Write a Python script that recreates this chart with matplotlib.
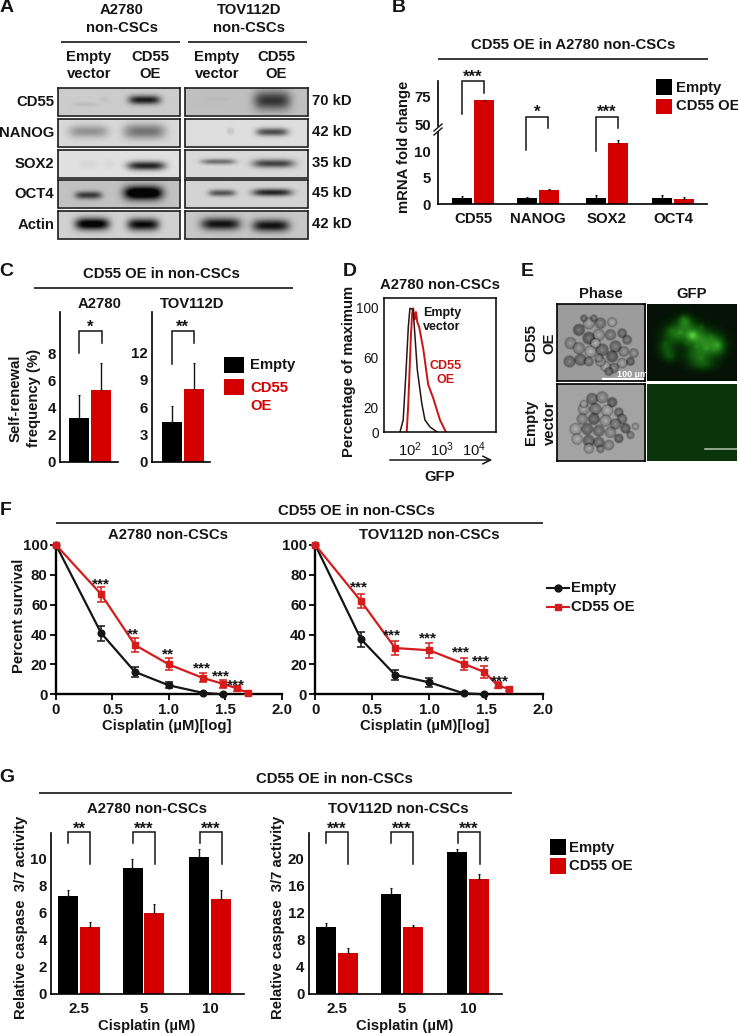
import numpy as np
import matplotlib
matplotlib.use('Agg')
import matplotlib.pyplot as plt

plt.rcParams['font.family'] = ['Liberation Sans', 'DejaVu Sans']
plt.rcParams['font.weight'] = 'bold'
plt.rcParams['mathtext.default'] = 'regular'

W, H = 738, 1034
RED = '#d40000'
INK = '#151515'

# panel A, blots: row names, sizes, background grey and bands (cx, cy, sx, sy, darkness)
blot_rows = ['CD55', 'NANOG', 'SOX2', 'OCT4', 'Actin']
blot_sizes = ['70 kD', '42 kD', '35 kD', '45 kD', '42 kD']
blot_bg_left = [0.80, 0.85, 0.88, 0.76, 0.82]
blot_bg_right = [0.75, 0.87, 0.85, 0.83, 0.78]
blot_left = [
	[(0.71, 0.46, 0.13, 0.16, 0.70), (0.22, 0.62, 0.10, 0.08, 0.06), (0.38, 0.44, 0.04, 0.10, 0.04)],
	[(0.25, 0.48, 0.16, 0.22, 0.28), (0.71, 0.48, 0.17, 0.27, 0.40)],
	[(0.725, 0.60, 0.155, 0.16, 0.75), (0.25, 0.55, 0.08, 0.15, 0.04), (0.42, 0.55, 0.05, 0.15, 0.03)],
	[(0.25, 0.58, 0.11, 0.14, 0.55), (0.70, 0.50, 0.16, 0.25, 1.00)],
	[(0.28, 0.50, 0.14, 0.22, 0.90), (0.70, 0.52, 0.13, 0.22, 0.80)],
]
blot_right = [
	[(0.71, 0.48, 0.15, 0.34, 0.55), (0.27, 0.42, 0.10, 0.06, 0.03)],
	[(0.71, 0.50, 0.13, 0.14, 0.58), (0.37, 0.47, 0.03, 0.12, 0.10)],
	[(0.27, 0.45, 0.14, 0.10, 0.42), (0.72, 0.52, 0.17, 0.15, 0.60)],
	[(0.30, 0.50, 0.11, 0.12, 0.50), (0.71, 0.48, 0.16, 0.13, 0.70)],
	[(0.29, 0.50, 0.16, 0.22, 0.72), (0.70, 0.56, 0.15, 0.22, 0.72)],
]

# panel B
b_genes = ['CD55', 'NANOG', 'SOX2', 'OCT4']
b_empty = [1.1, 1.05, 1.15, 1.15]
b_empty_err = [0.4, 0.2, 0.6, 0.5]
b_oe = [72, 2.6, 11.5, 0.95]
b_oe_err = [0.4, 0.15, 0.6, 0.4]

# panel C
c_a_vals = [3.2, 5.3]
c_a_errs = [1.75, 2.0]
c_t_vals = [4.36, 8.0]
c_t_errs = [1.75, 2.9]

# panel D, x is log10 of GFP
d_empty_x = [1.69, 1.79, 1.875, 1.95, 2.0, 2.10, 2.16, 2.23, 2.37, 2.47, 2.63, 2.85]
d_empty_y = [0, 9.6, 47, 84, 99, 98, 76, 50, 23, 9.6, 4, 0]
d_oe_x = [1.90, 1.95, 2.03, 2.07, 2.10, 2.15, 2.19, 2.23, 2.29, 2.42, 2.57, 2.73, 2.94, 3.125]
d_oe_y = [0, 23, 76, 95, 99, 90, 96, 88, 84, 66, 38, 27, 9.6, 0]

# panel E, cells as (x, y, r) and green blobs as (x, y, sx, sy, level)
e_cells_top = [(42, 180, 14), (45, 125, 14), (70, 85, 14), (100, 65, 14), (135, 65, 13), (170, 62, 11),
	(200, 95, 11), (215, 115, 11), (235, 155, 11), (225, 180, 10), (200, 185, 12), (175, 200, 12),
	(150, 195, 12), (160, 210, 10), (75, 175, 14), (70, 140, 14), (100, 110, 15), (130, 100, 14),
	(165, 100, 13), (105, 150, 14), (140, 145, 15), (180, 135, 14), (205, 150, 12), (170, 165, 14),
	(135, 180, 12), (100, 180, 11), (120, 125, 12), (85, 50, 8), (115, 50, 8), (130, 170, 10)]
e_cells_bottom = [(110, 290, 14), (140, 285, 14), (170, 300, 12), (85, 320, 14), (120, 320, 14),
	(155, 325, 14), (190, 330, 11), (200, 350, 12), (80, 350, 13), (115, 350, 14), (150, 355, 14),
	(180, 365, 13), (60, 380, 14), (95, 380, 14), (130, 385, 14), (165, 390, 13), (210, 378, 12),
	(240, 372, 8), (225, 398, 9), (65, 410, 13), (100, 415, 14), (130, 420, 13), (160, 428, 12),
	(190, 408, 11), (100, 438, 12), (135, 440, 9), (85, 305, 9)]
e_blobs = [(415, 100, 36, 32, 0.5), (390, 60, 22, 20, 0.42), (360, 95, 34, 28, 0.42), (460, 125, 40, 34, 0.46),
	(335, 140, 25, 25, 0.28), (345, 165, 20, 17, 0.2), (430, 165, 40, 30, 0.36), (490, 135, 22, 28, 0.34),
	(450, 190, 32, 16, 0.18)]
e_spots = [(412, 102, 13, 13, 0.3), (385, 50, 8, 8, 0.1), (375, 92, 8, 8, 0.1), (350, 85, 7, 7, 0.08),
	(440, 75, 8, 8, 0.1), (470, 105, 7, 7, 0.1), (455, 140, 8, 8, 0.1), (490, 130, 7, 7, 0.1),
	(425, 135, 7, 7, 0.07), (395, 125, 8, 8, 0.08), (330, 125, 7, 7, 0.08), (440, 170, 7, 7, 0.07)]
cell_shades = [0.36, 0.46, 0.30, 0.52, 0.40, 0.56, 0.34]

# panel F
f_dose = [0, 0.4, 0.7, 1.0, 1.3, 1.48, 1.6, 1.7]
f_a_empty = [100, 41, 15, 6, 1, 0]
f_a_empty_err = [0, 5, 3.5, 2, 0.5, 0.5]
f_a_oe = [100, 67, 33, 20, 11, 7, 4, 1]
f_a_oe_err = [0, 5, 5, 4, 3, 2.5, 1.5, 1]
f_t_empty = [100, 37, 13, 8, 0.7, 0]
f_t_empty_err = [0, 5, 3.5, 3, 0.5, 0.5]
f_t_oe = [100, 62.5, 31, 29.5, 20.5, 15, 6, 3.5]
f_t_oe_err = [0, 5, 5, 5, 4, 4, 2, 1]

# panel G
g_doses = ['2.5', '5', '10']
g_a_empty = [7.2, 9.3, 10.1]
g_a_empty_err = [0.44, 0.63, 0.64]
g_a_oe = [4.95, 5.96, 7.02]
g_a_oe_err = [0.35, 0.69, 0.62]
g_t_empty = [9.9, 14.7, 20.9]
g_t_empty_err = [0.5, 0.9, 0.5]
g_t_oe = [6.0, 9.8, 17.0]
g_t_oe_err = [0.7, 0.3, 0.7]

fig = plt.figure(figsize=(W / 100, H / 100), dpi=100)

def px_axes(left, top, right, bottom, **kw):
	return fig.add_axes([left / W, 1 - bottom / H, (right - left) / W, (bottom - top) / H], **kw)

# whole figure overlay in pixel coordinates, used for text and rules
ov = px_axes(0, 0, W, H, zorder=20)
ov.set_xlim(0, W)
ov.set_ylim(H, 0)
ov.axis('off')
ov.patch.set_alpha(0)

def txt(x, y, s, size=10.7, ha='center', color=INK, weight='bold', rotation=0):
	ov.text(x, y, s, fontsize=size, ha=ha, va='center', color=color, fontweight=weight, rotation=rotation,
		rotation_mode='anchor' if rotation else 'default', linespacing=1.4)

def rule(x0, x1, y, lw=1.2):
	ov.plot([x0, x1], [y, y], color=INK, lw=lw, solid_capstyle='butt')

def stars(x, y, s, size=12):
	# asterisks sit high in the line, so place them from the baseline
	ov.text(x, y + size * 0.82, s, fontsize=size, ha='center', va='baseline', color=INK)

def bracket(x0, y0, x1, y1, top):
	ov.plot([x0, x0, x1, x1], [y0, top, top, y1], color=INK, lw=1.1, solid_joinstyle='miter')

def square(x0, x1, y0, y1, color):
	ov.fill([x0, x1, x1, x0], [y0, y0, y1, y1], color=color, lw=0)

def bar_axes(left, top, right, bottom, ymax):
	ax = px_axes(left, top, right, bottom)
	ax.set_xlim(left, right)
	ax.set_ylim(0, ymax)
	for s in ['top', 'right']:
		ax.spines[s].set_visible(False)
	ax.spines['left'].set_linewidth(1.2)
	ax.spines['bottom'].set_linewidth(1.2)
	ax.tick_params(length=0, labelsize=10.8, colors=INK, pad=3)
	return ax

def paired_bars(ax, centers, empty, empty_err, oe, oe_err, width=20, off=11):
	x = np.array(centers, dtype=float)
	ax.bar(x - off, empty, width, color='black', yerr=[[0] * len(empty), empty_err], ecolor=INK,
		error_kw=dict(lw=1, capsize=1, capthick=0.8))
	ax.bar(x + off, oe, width, color=RED, yerr=[[0] * len(oe), oe_err], ecolor=INK,
		error_kw=dict(lw=1, capsize=1, capthick=0.8))

# ---- A
txt(7, 8, 'A', 14)
txt(122, 10, 'A2780')
txt(122, 28, 'non-CSCs')
txt(249, 10, 'TOV112D')
txt(249, 28, 'non-CSCs')
rule(61, 180, 42)
rule(188, 307, 42)
for x, top, bot in [(89, 'Empty', 'vector'), (150, 'CD55', 'OE'), (217, 'Empty', 'vector'), (276, 'CD55', 'OE')]:
	txt(x, 57, top)
	txt(x, 74, bot)

def blot(left, right, top, bottom, bg, bands):
	ax = px_axes(left, top, right, bottom)
	xx, yy = np.meshgrid(np.linspace(0, 1, 240), np.linspace(0, 1, 60))
	img = np.full(xx.shape, float(bg))
	for cx, cy, sx, sy, dark in bands:
		img -= dark * np.exp(-((xx - cx) / sx) ** 4 - ((yy - cy) / sy) ** 2)
	ax.imshow(np.clip(img, 0.02, 1), cmap='gray', vmin=0, vmax=1, aspect='auto', interpolation='bilinear')
	ax.set_xticks([])
	ax.set_yticks([])
	for s in ax.spines.values():
		s.set_linewidth(1.2)
		s.set_color('#1c1c1c')

blot_tops = [88, 119, 150, 180, 211]
for i, name in enumerate(blot_rows):
	t = blot_tops[i]
	blot(58, 180, t, t + 27.5, blot_bg_left[i], blot_left[i])
	blot(185, 308, t, t + 27.5, blot_bg_right[i], blot_right[i])
	txt(54, t + 14, name, ha='right')
	txt(312, t + 13, blot_sizes[i], ha='left')

# ---- B
txt(399, 7, 'B', 14)
txt(572.7, 45, 'CD55 OE in A2780 non-CSCs')
rule(438, 707.7, 59)
b_centers = [473, 537.5, 607, 673]
ax_low = bar_axes(437.7, 128, 707, 204, 14.34)
ax_up = bar_axes(437.7, 81, 707, 128, 89.8)
ax_up.set_ylim(46.3, 89.8)
for ax in (ax_low, ax_up):
	paired_bars(ax, b_centers, b_empty, b_empty_err, b_oe, b_oe_err)
ax_low.spines['left'].set_bounds(0, 13.6)
ax_up.spines['left'].set_bounds(48.1, 89.8)
ax_up.spines['bottom'].set_visible(False)
ax_up.patch.set_alpha(0)
ax_low.patch.set_alpha(0)
ax_low.set_yticks([0, 5, 10])
ax_up.set_yticks([50, 75])
ax_up.set_xticks([])
ax_low.set_xticks(b_centers)
ax_low.set_xticklabels(b_genes)
ax_low.tick_params(axis='x', pad=6)
ax_up.tick_params(axis='y', pad=5)
ax_low.tick_params(axis='y', pad=5)
ov.plot([434, 442], [131, 124], color=INK, lw=1)
ov.plot([434, 442], [135, 128], color=INK, lw=1)
txt(404, 147, 'mRNA fold change', rotation=90)
bracket(461.7, 114, 484, 92.7, 81)
stars(472.5, 72, '***')
bracket(525.7, 150, 548, 128, 117)
stars(537, 107, '*')
bracket(596, 150.7, 618, 128, 117)
stars(607, 107, '***')
square(656, 672, 79, 95, 'black')
square(656, 672, 99, 114, RED)
txt(675.7, 87.7, 'Empty', ha='left')
txt(675.7, 106.5, 'CD55 OE', ha='left')

# ---- C
txt(6, 272, 'C', 14)
txt(161, 274, 'CD55 OE in non-CSCs')
rule(34, 293, 288)
txt(100, 304, 'A2780')
txt(192, 304, 'TOV112D')
ax = bar_axes(60.3, 312, 118, 461.7, 150 / 13.6)
paired_bars(ax, [90.2], [c_a_vals[0]], [c_a_errs[0]], [c_a_vals[1]], [c_a_errs[1]])
ax.set_yticks([0, 2, 4, 6, 8])
ax.set_xticks([])
ax = bar_axes(152.3, 312, 210, 461.7, 150 / 9.1)
paired_bars(ax, [182.5], [c_t_vals[0]], [c_t_errs[0]], [c_t_vals[1]], [c_t_errs[1]])
ax.set_yticks([0, 3, 6, 9, 12])
ax.set_xticks([])
txt(25, 398, 'Self-renewal\nfrequency (%)', rotation=90)
bracket(79.3, 353, 102, 342.7, 331)
stars(90, 322, '*')
bracket(171.7, 364, 193.7, 342.7, 331)
stars(182.7, 322, '**')
square(224, 243.7, 356.7, 372.7, 'black')
square(224, 243.7, 379, 395, RED)
txt(250, 365, 'Empty', ha='left')
txt(250, 387.7, 'CD55', ha='left', color=RED)
txt(250, 405.7, 'OE', ha='left', color=RED)

# ---- D
txt(350, 272, 'D', 14)
txt(440, 285, 'A2780 non-CSCs')
ax = px_axes(384.3, 298.3, 495.7, 432)
ax.plot(d_oe_x, d_oe_y, color='#c81414', lw=1.4)
ax.plot(d_empty_x, d_empty_y, color='#2a1414', lw=1.1)
ax.set_xlim(1.2, 4.68)
ax.set_ylim(0, 107)
ax.set_xticks([2, 3, 4])
ax.set_xticklabels(['$10^2$', '$10^3$', '$10^4$'], fontweight='normal')
ax.set_yticks([0, 20, 60, 100])
ax.set_yticklabels(['0', '20', '60', '100'], fontweight='normal')
ax.tick_params(length=0, labelsize=9.8, colors=INK, pad=4)
ax.tick_params(axis='x', pad=6, labelsize=10.6)
for s in ax.spines.values():
	s.set_linewidth(1.1)
txt(348.5, 371.7, 'Percentage of maximum', rotation=90)
ov.annotate('', xy=(495, 460), xytext=(387, 460), arrowprops=dict(arrowstyle='->', lw=1.1, color=INK, mutation_scale=14))
txt(440, 476.7, 'GFP')
txt(423, 313, 'Empty', 9, ha='left')
txt(423, 327, 'vector', 9, ha='left')
txt(445.7, 365.7, 'CD55', 9, color='#c81414')
txt(445.7, 380, 'OE', 9, color='#c81414')

# ---- E
txt(527, 272, 'E', 14)
txt(601, 294, 'Phase')
txt(691.7, 294, 'GFP')

def phase(left, top, right, bottom, zx0, zx1, zy0, zy1, cells, grey):
	# soft rings on a grey field, overlapping like the clumped cells
	ax = px_axes(left, top, right, bottom)
	xx, yy = np.meshgrid(np.linspace(zx0, zx1, 180), np.linspace(zy0, zy1, 156))
	img = np.full(xx.shape, float(grey))
	for i, (x, y, r) in enumerate(cells):
		r = r * 1.2
		d = np.hypot(xx - x, yy - y)
		shade = cell_shades[i % len(cell_shades)]
		mask = np.clip((r - d) / 2.0, 0, 1)
		img = img * (1 - 0.8 * mask) + shade * 0.8 * mask
		img = img - 0.2 * np.exp(-((d - r) / 1.8) ** 2)
		img = img + 0.12 * np.exp(-(d / (r * 0.4)) ** 2)
	ax.imshow(np.clip(img, 0, 1), cmap='gray', vmin=0, vmax=1, aspect='auto', extent=(zx0, zx1, zy1, zy0), interpolation='bilinear')
	ax.set_xticks([])
	ax.set_yticks([])
	for s in ax.spines.values():
		s.set_linewidth(1.2)
	return ax

ax = phase(556.7, 304.3, 645.3, 381, 5, 271, 8, 238, e_cells_top, 0.61)
ax.plot([145, 271], [233, 233], color='white', lw=1.6)
ax.text(232, 218, '100 µm', color='white', fontsize=6.5, ha='center', va='center')
phase(556.7, 383.7, 645.3, 460.7, 5, 271, 246, 475, e_cells_bottom, 0.64)

ax = px_axes(647.3, 304.3, 736.7, 381)
gx, gy = np.meshgrid(np.linspace(277, 546, 180), np.linspace(8, 238, 150))
glow = np.zeros(gx.shape)
for x, y, sx, sy, level in e_blobs + e_spots:
	glow += level * np.exp(-((gx - x) / sx) ** 2 - ((gy - y) / sy) ** 2)
glow = np.clip(glow, 0, 1)
rgb = np.dstack([0.02 + 0.42 * glow ** 2, 0.07 + 0.80 * glow, 0.02 + 0.28 * glow ** 2])
ax.imshow(rgb, aspect='auto', interpolation='bilinear')
ax.axis('off')
ax = px_axes(647.3, 383.7, 736.7, 460.7)
ax.set_facecolor('#0b340b')
ax.set_xlim(277, 546)
ax.set_ylim(475, 246)
ax.set_xticks([])
ax.set_yticks([])
ax.plot([450, 546], [440, 440], color='#a8b8a8', lw=1.2)
for s in ax.spines.values():
	s.set_visible(False)
txt(540.5, 343, 'CD55\nOE', rotation=90)
txt(540.5, 422.7, 'Empty\nvector', rotation=90)

# ---- F
txt(6, 510.7, 'F', 14)
txt(356, 511, 'CD55 OE in non-CSCs')
rule(56, 543, 523)
txt(167.7, 535, 'A2780 non-CSCs')
txt(429, 535, 'TOV112D non-CSCs')

def survival(left, right, empty, empty_err, oe, oe_err):
	ax = px_axes(left, 545, right, 694.3)
	ax.errorbar(f_dose[:len(empty)], empty, yerr=empty_err, color='#151515', lw=1.6, marker='o', ms=4.8,
		capsize=3.2, capthick=1.1, elinewidth=1.1, clip_on=False, zorder=3)
	ax.errorbar(f_dose, oe, yerr=oe_err, color='#d41c1c', lw=1.6, marker='s', ms=5, capsize=3.2, capthick=1.1,
		elinewidth=1.1, clip_on=False, zorder=4)
	ax.set_xlim(0, 2)
	ax.set_ylim(0, 100)
	ax.set_xticks([0, 0.5, 1.0, 1.5, 2.0])
	ax.set_xticklabels(['0', '0.5', '1.0', '1.5', '2.0'])
	ax.set_yticks([0, 20, 40, 60, 80, 100])
	ax.tick_params(length=4, width=1.4, labelsize=10.8, colors=INK, pad=2)
	for s in ['top', 'right']:
		ax.spines[s].set_visible(False)
	for s in ['left', 'bottom']:
		ax.spines[s].set_linewidth(1.7)
	ax.patch.set_alpha(0)

survival(56, 281.7, f_a_empty, f_a_empty_err, f_a_oe, f_a_oe_err)
survival(315.3, 543.3, f_t_empty, f_t_empty_err, f_t_oe, f_t_oe_err)
txt(19.3, 616, 'Percent survival', rotation=90)
txt(166.7, 725.7, 'Cisplatin (µM)[log]')
txt(424.3, 725.7, 'Cisplatin (µM)[log]')
for x, y, s in [(100.7, 579, '***'), (132.7, 629, '**'), (168.3, 649.3, '**'), (201.7, 663.3, '***'), (221.3, 671, '***'), (236, 680.3, '***')]:
	stars(x, y, s, 11)
for x, y, s in [(359.3, 582.3, '***'), (392, 630, '***'), (427.7, 633.3, '***'), (461.3, 647.3, '***'), (481, 656.3, '***'), (500.3, 676, '***')]:
	stars(x, y, s, 11)
ov.plot([546.7, 568.7], [587.7, 587.7], color='#151515', lw=1.5)
ov.plot([557.7], [587.7], 'o', color='#151515', ms=5)
ov.plot([546.7, 568.7], [607.3, 607.3], color='#d41c1c', lw=1.5)
ov.plot([557.7], [607.3], 's', color='#d41c1c', ms=5)
txt(571, 587.7, 'Empty', ha='left')
txt(571, 607.3, 'CD55 OE', ha='left')

# ---- G
txt(7, 777.7, 'G', 14)
txt(334, 779, 'CD55 OE in non-CSCs')
rule(39.3, 512, 792.7)
txt(147.3, 808.7, 'A2780 non-CSCs')
txt(398.7, 808.7, 'TOV112D non-CSCs')
g_a_centers = [79, 143.5, 210.5]
g_t_centers = [337, 401.5, 468]
ax = bar_axes(51, 832.7, 244.3, 993.7, 160.8 / 13.5)
paired_bars(ax, g_a_centers, g_a_empty, g_a_empty_err, g_a_oe, g_a_oe_err)
ax.set_yticks([0, 2, 4, 6, 8, 10])
ax.set_xticks(g_a_centers)
ax.set_xticklabels(g_doses)
ax.tick_params(axis='x', pad=6)
ax = bar_axes(308.7, 832.7, 502.3, 993.7, 160.8 / 6.75)
paired_bars(ax, g_t_centers, g_t_empty, g_t_empty_err, g_t_oe, g_t_oe_err)
ax.set_yticks([0, 4, 8, 12, 16, 20])
ax.set_xticks(g_t_centers)
ax.set_xticklabels(g_doses)
ax.tick_params(axis='x', pad=6)
txt(20.7, 917, 'Relative caspase  3/7 activity', rotation=90)
txt(278, 917, 'Relative caspase  3/7 activity', rotation=90)
txt(146.7, 1026, 'Cisplatin (µM)')
txt(404.3, 1026, 'Cisplatin (µM)')
for x0, x1, s in [(68, 90.3, '**'), (132.7, 155, '***'), (199.7, 221.7, '***'), (326, 348.3, '***'), (390.7, 413, '***'), (457.7, 480, '***')]:
	bracket(x0, 842.7, x1, 864.3, 832)
	stars((x0 + x1) / 2, 824, s)
square(549.7, 565.7, 839.3, 855, 'black')
square(549.7, 565.7, 858, 874, RED)
txt(569.3, 847.7, 'Empty', ha='left')
txt(569.3, 866.3, 'CD55 OE', ha='left')

fig.savefig('out.png', dpi=100)
